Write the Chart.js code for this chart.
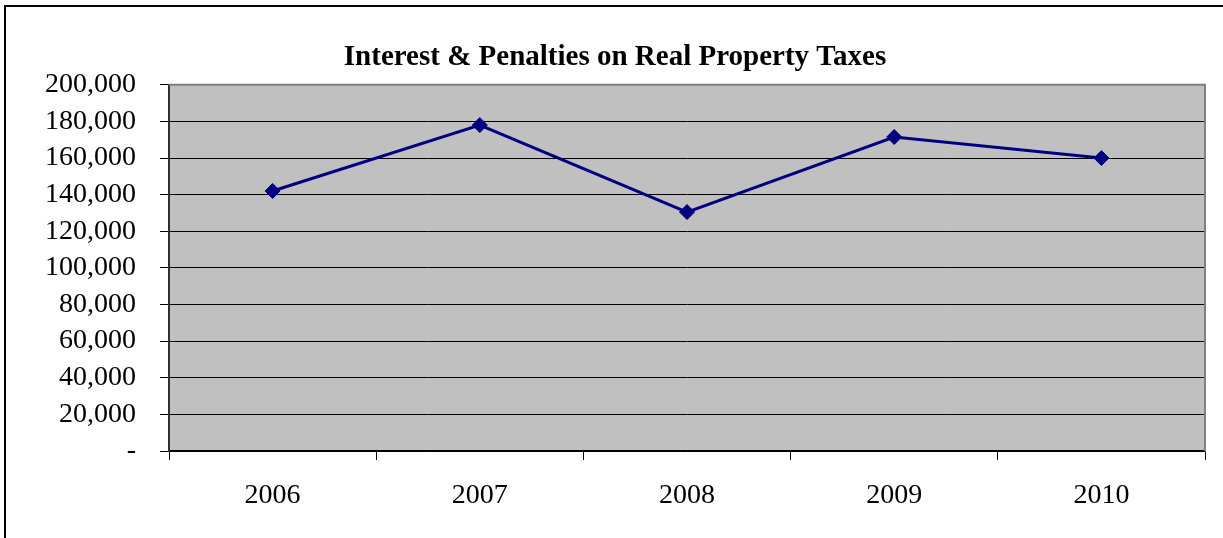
<!DOCTYPE html>
<html lang="en">
<head>
  <meta charset="UTF-8">
  <title>Interest &amp; Penalties on Real Property Taxes</title>
  <script src="https://cdn.jsdelivr.net/npm/chart.js"></script>
  <style>
    html, body {
      margin: 0;
      padding: 0;
      background: #ffffff;
    }
    canvas {
      display: block;
    }
  </style>
</head>
<body>
  <canvas id="penaltiesChart" width="1223" height="538"></canvas>

  <script>
    // Datos del gráfico
    const years = ['2006', '2007', '2008', '2009', '2010'];
    const penalties = [142000, 178000, 130500, 171500, 160000];
    const yTicks = [0, 20000, 40000, 60000, 80000, 100000, 120000, 140000, 160000, 180000, 200000];

    const serif = '"Liberation Serif", "Times New Roman", serif';

    // Fondo gris del área de trazado, borde del área y marco exterior
    const plotFrame = {
      id: 'plotFrame',
      beforeDraw(chart) {
        const { ctx, chartArea: a } = chart;
        ctx.save();
        ctx.fillStyle = '#c0c0c0';
        ctx.fillRect(a.left, a.top, a.right - a.left, a.bottom - a.top);
        // marco exterior (solo izquierda y arriba quedan visibles)
        ctx.strokeStyle = '#000000';
        ctx.lineWidth = 2;
        ctx.beginPath();
        ctx.moveTo(5, chart.height + 2);
        ctx.lineTo(5, 6);
        ctx.lineTo(chart.width + 2, 6);
        ctx.stroke();
        ctx.restore();
      },
      beforeDatasetsDraw(chart) {
        const { ctx, chartArea: a } = chart;
        ctx.save();
        ctx.strokeStyle = '#808080';
        ctx.lineWidth = 2;
        ctx.beginPath();
        ctx.moveTo(a.left, a.top);
        ctx.lineTo(a.right, a.top);
        ctx.lineTo(a.right, a.bottom);
        ctx.stroke();
        ctx.restore();
      }
    };

    const ctx = document.getElementById('penaltiesChart').getContext('2d');
    const penaltiesChart = new Chart(ctx, {
      type: 'line',
      data: {
        labels: years,
        datasets: [{
          label: 'Interest & Penalties',
          data: penalties,
          borderColor: '#000080',
          backgroundColor: '#000080',
          borderWidth: 3,
          pointStyle: 'rectRot',
          pointRadius: 7.5,
          pointBorderWidth: 1,
          pointBackgroundColor: '#000080',
          pointBorderColor: '#000080',
          tension: 0,
          fill: false
        }]
      },
      options: {
        responsive: false,
        animation: false,
        layout: {
          padding: { left: 25, right: 18, top: 0, bottom: 0 }
        },
        plugins: {
          legend: { display: false },
          tooltip: { enabled: false },
          title: {
            display: true,
            text: 'Interest & Penalties on Real Property Taxes',
            color: '#000000',
            font: { family: serif, size: 29, weight: 'bold' },
            padding: { top: 40, bottom: 10 }
          }
        },
        scales: {
          x: {
            type: 'category',
            offset: true,
            grid: {
              offset: true,
              drawOnChartArea: false,
              drawTicks: true,
              tickLength: 9,
              color: '#000000'
            },
            border: { color: '#000000', width: 1.5 },
            ticks: {
              color: '#000000',
              font: { family: serif, size: 28 },
              padding: 19,
              maxRotation: 0
            },
            afterFit(scale) {
              scale.height = 87;
            }
          },
          y: {
            min: 0,
            max: 200000,
            afterBuildTicks(scale) {
              scale.ticks = yTicks.map(v => ({ value: v }));
            },
            grid: {
              color: '#000000',
              lineWidth: 1,
              drawTicks: true,
              tickLength: 9
            },
            border: { color: '#303030', width: 2 },
            ticks: {
              color: '#000000',
              font: { family: serif, size: 28 },
              padding: 24,
              callback: v => v === 0 ? '-' : v.toLocaleString('en-US')
            },
            afterFit(scale) {
              scale.width = 144;
            }
          }
        }
      },
      plugins: [plotFrame]
    });
  </script>
</body>
</html>
